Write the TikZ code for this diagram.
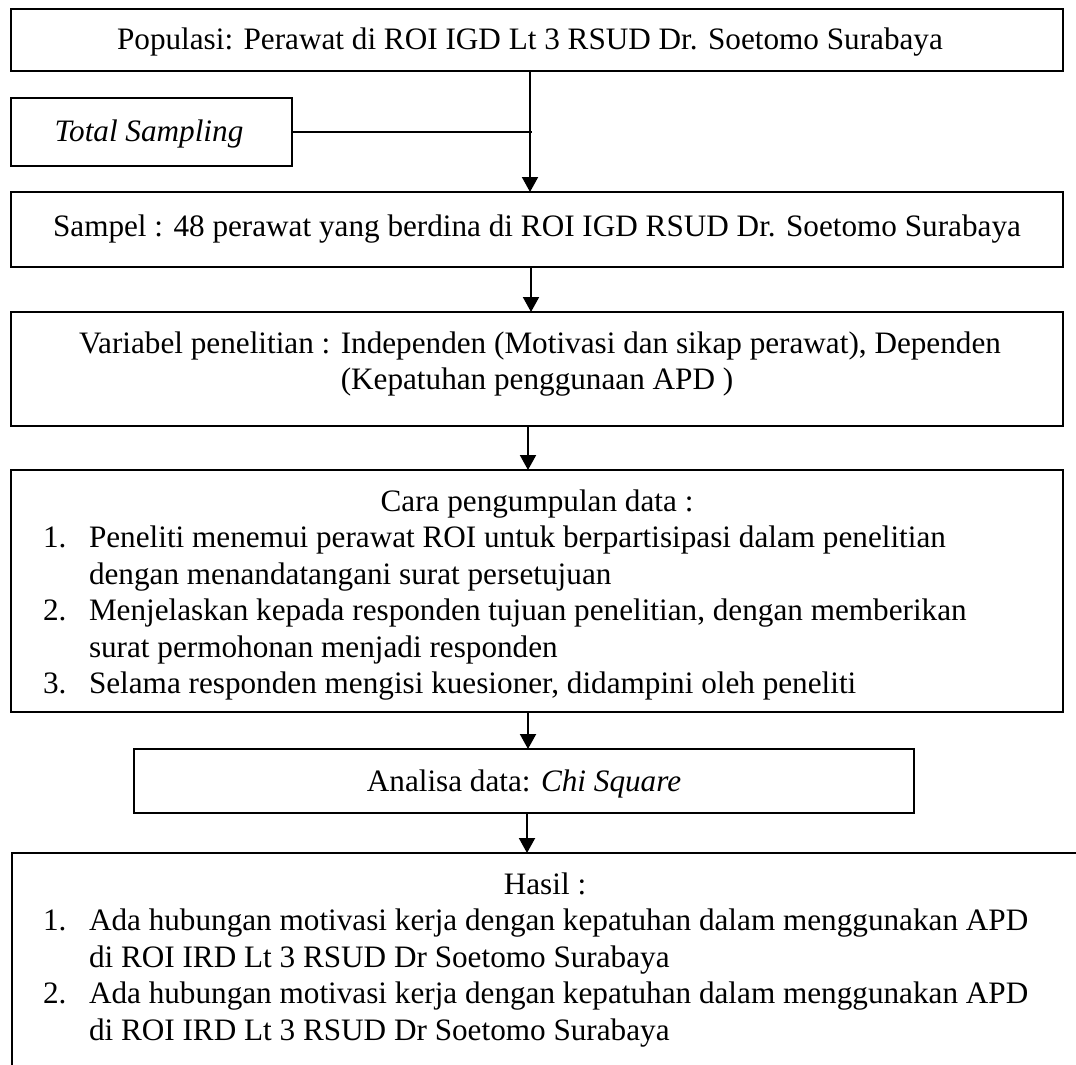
\documentclass[tikz,border=0pt]{standalone}
\usepackage{fontspec}
\setmainfont{Liberation Serif}
\usetikzlibrary{arrows.meta}
\newcommand\fs{\fontsize{15.6}{18.25}\selectfont}
\tikzset{
  box/.style={draw, line width=1pt, inner sep=0pt, outer sep=0pt},
  txt/.style={font=\fs, anchor=base, inner sep=0pt, outer sep=0pt},
  txtl/.style={font=\fs, anchor=base west, inner sep=0pt, outer sep=0pt},
  arr/.style={-{Triangle[length=7.5pt,width=8pt]}, line width=1pt},
  conn/.style={line width=1pt}
}
\begin{document}
\begin{tikzpicture}[x=0.5pt,y=-0.5pt]
\useasboundingbox (0,0) rectangle (1076,1065);
% boxes
\node[box, minimum width=526pt, minimum height=31pt] (b1) at (537,40) {};
\node[box, minimum width=140.5pt, minimum height=34pt] (ts) at (151.5,132) {};
\node[box, minimum width=526pt, minimum height=37.5pt] (b2) at (537,229.5) {};
\node[box, minimum width=526pt, minimum height=57pt] (b3) at (537,369) {};
\node[box, minimum width=526pt, minimum height=121pt] (b4) at (537,591) {};
\node[box, minimum width=390pt, minimum height=32pt] (b5) at (524,781) {};
\coordinate (b6) at (527,853);
\coordinate (b6r) at (1076,853);
\coordinate (b6bl) at (12,1065);
\draw[conn] (b6r) -- (b6bl |- b6r) -- (b6bl);
% texts
\node[txt] (t1) at (530,50) {Populasi: Perawat di ROI IGD Lt 3 RSUD Dr. Soetomo Surabaya};
\node[txt] (tts) at (149,141) {\itshape Total Sampling};
\node[txt] (t2) at (537,236) {Sampel : 48 perawat yang berdina di ROI IGD RSUD Dr. Soetomo Surabaya};
\node[txt] (t3a) at (540,353) {Variabel penelitian : Independen (Motivasi dan sikap perawat), Dependen};
\node[txt] (t3b) at (537,389) {(Kepatuhan penggunaan APD )};
\node[txt] (t4h) at (537,511) {Cara pengumpulan data :};
\node[txtl] (n41) at (43,547.5) {1.};
\node[txtl] (t41a) at (89,547.5) {Peneliti menemui perawat ROI untuk berpartisipasi dalam penelitian};
\node[txtl] (t41b) at (89,584) {dengan menandatangani surat persetujuan};
\node[txtl] (n42) at (43,620.5) {2.};
\node[txtl] (t42a) at (89,620.5) {Menjelaskan kepada responden tujuan penelitian, dengan memberikan};
\node[txtl] (t42b) at (89,657) {surat permohonan menjadi responden};
\node[txtl] (n43) at (43,693.5) {3.};
\node[txtl] (t43a) at (89,693.5) {Selama responden mengisi kuesioner, didampini oleh peneliti};
\node[txt] (t5) at (524,791) {Analisa data: \itshape Chi Square};
\node[txt] (t6h) at (545,894) {Hasil :};
\node[txtl] (n61) at (43,930.5) {1.};
\node[txtl] (t61a) at (89,930.5) {Ada hubungan motivasi kerja dengan kepatuhan dalam menggunakan APD};
\node[txtl] (t61b) at (89,967) {di ROI IRD Lt 3 RSUD Dr Soetomo Surabaya};
\node[txtl] (n62) at (43,1003.5) {2.};
\node[txtl] (t62a) at (89,1003.5) {Ada hubungan motivasi kerja dengan kepatuhan dalam menggunakan APD};
\node[txtl] (t62b) at (89,1040) {di ROI IRD Lt 3 RSUD Dr Soetomo Surabaya};
% connectors
\coordinate (tsj) at (532,132);
\draw[conn] (ts.east) -- (tsj);
\draw[arr] ([xshift=-3.5pt]b1.south) -- ([xshift=-3.5pt]b2.north);
\draw[arr] ([xshift=-3pt]b2.south) -- ([xshift=-3pt]b3.north);
\draw[arr] ([xshift=-4.5pt]b3.south) -- ([xshift=-4.5pt]b4.north);
\draw[arr] ([xshift=-4.5pt]b4.south) -- ([xshift=-4.5pt]b4.south |- b5.north);
\draw[arr] ([xshift=1.5pt]b5.south) -- (b6);
\end{tikzpicture}
\end{document}
